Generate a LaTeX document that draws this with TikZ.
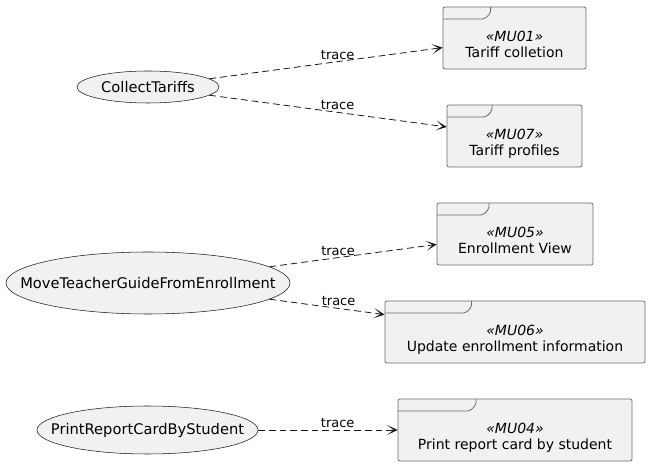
\documentclass[tikz,border=0pt]{standalone}
\usepackage{fontspec}
\setmainfont{DejaVu Sans}
\usetikzlibrary{shapes.geometric,arrows.meta,calc}

\definecolor{umlfill}{HTML}{F1F1F1}
\definecolor{umlline}{HTML}{181818}
\definecolor{umlframe}{HTML}{6A6A6A}

\tikzset{
  usecase/.style={ellipse,draw=umlline,line width=0.4pt,fill=umlfill,inner sep=0pt,
                  font=\fontsize{11}{13}\selectfont},
  module/.style={rectangle,draw=umlframe,line width=0.6pt,fill=umlfill,rounded corners=1.5pt,
                 minimum height=46.5pt,inner sep=0pt,
                 font=\fontsize{10.5}{12.75}\selectfont,
                 path picture={
                   \draw[umlframe,line width=0.6pt]
                     ($(path picture bounding box.north west)+(0,-9pt)$)
                     -- ($($(path picture bounding box.north west)!0.333!(path picture bounding box.north east)$)+(-4.5pt,-9pt)$)
                     -- ($($(path picture bounding box.north west)!0.333!(path picture bounding box.north east)$)+(0,-4.5pt)$)
                     -- ($(path picture bounding box.north west)!0.333!(path picture bounding box.north east)$);
                 }},
  trace/.style={umlline,line width=0.6pt,dash pattern=on 5pt off 3pt,
                -{Stealth[length=8pt,width=7.5pt,inset=5pt]}},
  tracelabel/.style={above,inner sep=1.5pt,font=\fontsize{9.75}{11}\selectfont,text=black}
}
\newcommand{\usecasetext}[1]{\makebox[0pt]{#1}}
\newcommand{\stereotyped}[2]{\raisebox{-5.8pt}[\height][\depth]{\begin{tabular}{@{}c@{}}\textit{«#1»}\\[-0.6pt]#2\end{tabular}}}

\begin{document}
\begin{tikzpicture}[x=0.75pt,y=-0.75pt]
  \useasboundingbox (0,0) rectangle (650,466);
  % use cases
  \node[usecase,minimum width=106.5pt,minimum height=24pt] (collect) at (148,87) {\usecasetext{CollectTariffs}};
  \node[usecase,minimum width=213pt,minimum height=46.5pt] (moveguide) at (148,283) {\usecasetext{MoveTeacherGuideFromEnrollment}};
  \node[usecase,minimum width=165.75pt,minimum height=36pt] (printcard) at (147.5,430) {\usecasetext{PrintReportCardByStudent}};
  % modules
  \node[module,minimum width=107.25pt] (mu01) at (514.5,38) {\stereotyped{MU01}{Tariff colletion}};
  \node[module,minimum width=101.25pt] (mu07) at (514.5,136) {\stereotyped{MU07}{Tariff profiles}};
  \node[module,minimum width=117pt] (mu05) at (515,234) {\stereotyped{MU05}{Enrollment View}};
  \node[module,minimum width=195pt] (mu06) at (515,332) {\stereotyped{MU06}{Update enrollment information}};
  \node[module,minimum width=175.5pt] (mu04) at (515,430) {\stereotyped{MU04}{Print report card by student}};
  % traces
  \draw[trace] (collect) -- node[tracelabel,pos=0.55] {trace} (mu01);
  \draw[trace] (collect) -- node[tracelabel,pos=0.54] {trace} (mu07);
  \draw[trace] (moveguide) -- node[tracelabel,pos=0.41] {trace} (mu05);
  \draw[trace] (moveguide) -- node[tracelabel,pos=0.6] {trace} (mu06);
  \draw[trace] (printcard) -- node[tracelabel,pos=0.57] {trace} (mu04);
\end{tikzpicture}
\end{document}
